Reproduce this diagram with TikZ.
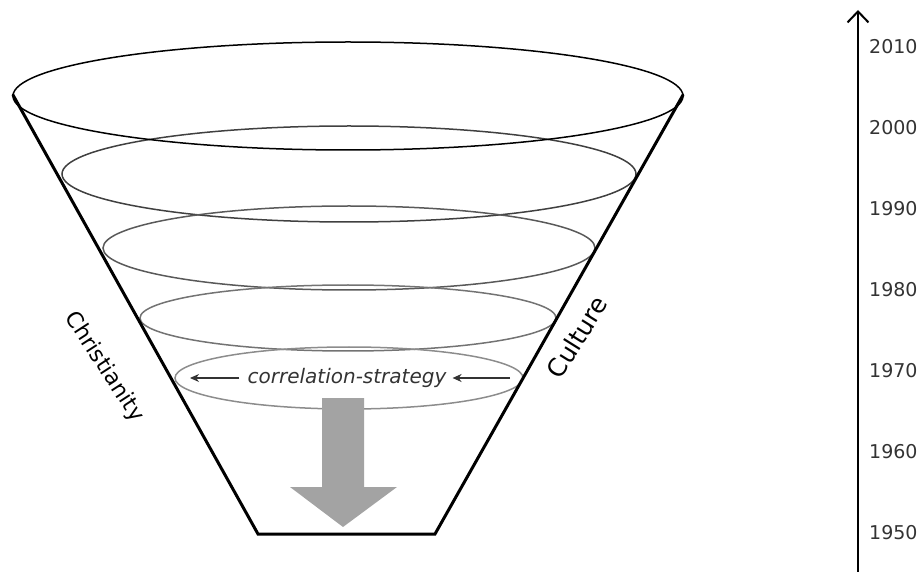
\documentclass[tikz,border=0pt]{standalone}
\usepackage{fontspec}
\setmainfont{DejaVu Sans}
\usetikzlibrary{arrows.meta}
\definecolor{txt}{HTML}{333333}
\definecolor{arrowgray}{HTML}{A3A3A3}
\tikzset{
  rim/.style={line width=1.5pt, draw=black},
  ring/.style={line width=1.5pt},
  wall/.style={line width=3pt, draw=black, line cap=round},
  yearlbl/.style={anchor=west, text=txt, font=\fontsize{19}{21}\selectfont, inner sep=0pt},
  sidelbl/.style={inner sep=0pt},
  corrlbl/.style={font=\itshape\fontsize{20}{22}\selectfont, text=txt, inner sep=0pt},
  corrarrow/.style={line width=1.3pt, draw=txt, -{Stealth[length=9pt,width=8pt]}},
}
\begin{document}
\begin{tikzpicture}[x=1pt,y=-1pt]
\useasboundingbox (0,0) rectangle (922,572);
% cone walls
\coordinate (tl) at (13,95);
\coordinate (tr) at (683,95);
\coordinate (bl) at (258,534);
\coordinate (br) at (435,534);
% inner rings
\draw[ring, draw=black!75] (349,174) ellipse [x radius=287, y radius=48];
\draw[ring, draw=black!65] (349,248) ellipse [x radius=246, y radius=42];
\draw[ring, draw=black!55] (348,318) ellipse [x radius=208, y radius=33];
\draw[ring, draw=black!45] (349,378) ellipse [x radius=174, y radius=31];
% top rim
\draw[rim] (348,96) ellipse [x radius=335, y radius=54];
\draw[wall] (tl) -- (bl) -- (br) -- (tr);
% big gray arrow
\fill[arrowgray] (322,398) -- (364,398) -- (364,487) -- (397,487) -- (343,527) -- (290,487) -- (322,487) -- cycle;
% correlation strategy
\node[corrlbl] (corr) at (347,378) {correlation-strategy};
\coordinate (la) at (190,378);
\coordinate (ra) at (510,378);
\draw[corrarrow] ([xshift=-8pt]corr.west) -- (la);
\draw[corrarrow] (ra) -- ([xshift=6pt]corr.east);
% side labels
\node[sidelbl, font=\fontsize{22}{24}\selectfont, rotate=-57] (chr) at (104,367) {Christianity};
\node[sidelbl, font=\fontsize{25}{27}\selectfont, rotate=58] (cul) at (577,337) {Culture};
% timeline
\coordinate (axb) at (858,572);
\coordinate (axt) at (858,10);
\draw[line width=2.5pt, -{Straight Barb[length=11pt,width=21pt,line width=2pt]}] (axb) -- (axt);
\node[yearlbl] (y2010) at (869,47) {2010};
\node[yearlbl] (y2000) at (869,128) {2000};
\node[yearlbl] (y1990) at (869,209) {1990};
\node[yearlbl] (y1980) at (869,290) {1980};
\node[yearlbl] (y1970) at (869,371) {1970};
\node[yearlbl] (y1960) at (869,452) {1960};
\node[yearlbl] (y1950) at (869,533) {1950};
\end{tikzpicture}
\end{document}
